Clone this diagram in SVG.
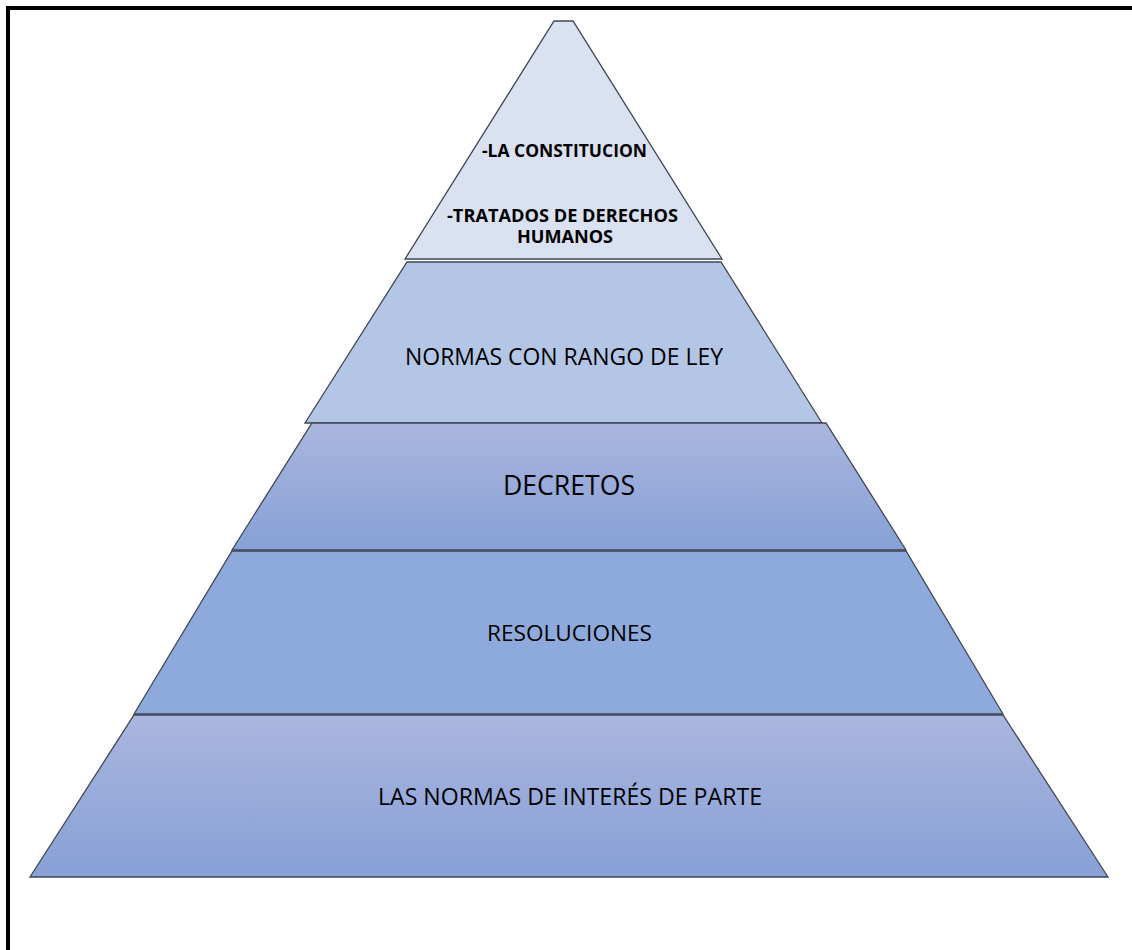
<svg xmlns="http://www.w3.org/2000/svg" width="1132" height="950" viewBox="0 0 1132 950">
  <defs>
    <linearGradient id="gradA" x1="0" y1="0" x2="0" y2="1">
      <stop offset="0" stop-color="#aab6df"/>
      <stop offset="1" stop-color="#87a0d6"/>
    </linearGradient>
    <style>
      .tier { stroke: #3f4654; stroke-width: 1.3; stroke-linejoin: miter; }
      .lbl { font-family: "Open Sans", "Liberation Sans", sans-serif; fill: #000; text-anchor: middle; }
      .b { font-weight: bold; font-size: 17px; }
    </style>
  </defs>
  <rect width="1132" height="950" fill="#ffffff"/>
  <g id="frame">
    <line x1="8" y1="8" x2="1132" y2="8" stroke="#000" stroke-width="4"/>
    <line x1="8" y1="6" x2="8" y2="950" stroke="#000" stroke-width="4"/>
  </g>
  <g id="tier1">
    <polygon class="tier" fill="#dae1f0" points="554,21 573,21 722,259 405,259"/>
    <text class="lbl b" x="564.5" y="157" textLength="165" lengthAdjust="spacingAndGlyphs">-LA CONSTITUCION</text>
    <text class="lbl b" x="562.5" y="222" textLength="231" lengthAdjust="spacingAndGlyphs">-TRATADOS DE DERECHOS</text>
    <text class="lbl b" x="565" y="243" textLength="96" lengthAdjust="spacingAndGlyphs">HUMANOS</text>
  </g>
  <g id="tier2">
    <polygon class="tier" fill="#b4c6e5" points="407,262 721,262 822,423 305,423"/>
    <text class="lbl" x="564" y="365" font-size="23" textLength="318" lengthAdjust="spacingAndGlyphs">NORMAS CON RANGO DE LEY</text>
  </g>
  <g id="tier3">
    <polygon class="tier" fill="url(#gradA)" points="312,423 826,423 906,550 232,550"/>
    <text class="lbl" x="569" y="495" font-size="27" textLength="132" lengthAdjust="spacingAndGlyphs">DECRETOS</text>
  </g>
  <g id="tier4">
    <polygon class="tier" fill="#8eaadc" points="232,551 906,551 1003,714 134,714"/>
    <text class="lbl" x="569.5" y="641" font-size="22" textLength="165" lengthAdjust="spacingAndGlyphs">RESOLUCIONES</text>
  </g>
  <g id="tier5">
    <polygon class="tier" fill="url(#gradA)" points="134,715 1003,715 1108,877 30,877"/>
    <text class="lbl" x="570" y="805" font-size="23" textLength="384" lengthAdjust="spacingAndGlyphs">LAS NORMAS DE INTERÉS DE PARTE</text>
  </g>
  <g id="connectors"/>
</svg>
